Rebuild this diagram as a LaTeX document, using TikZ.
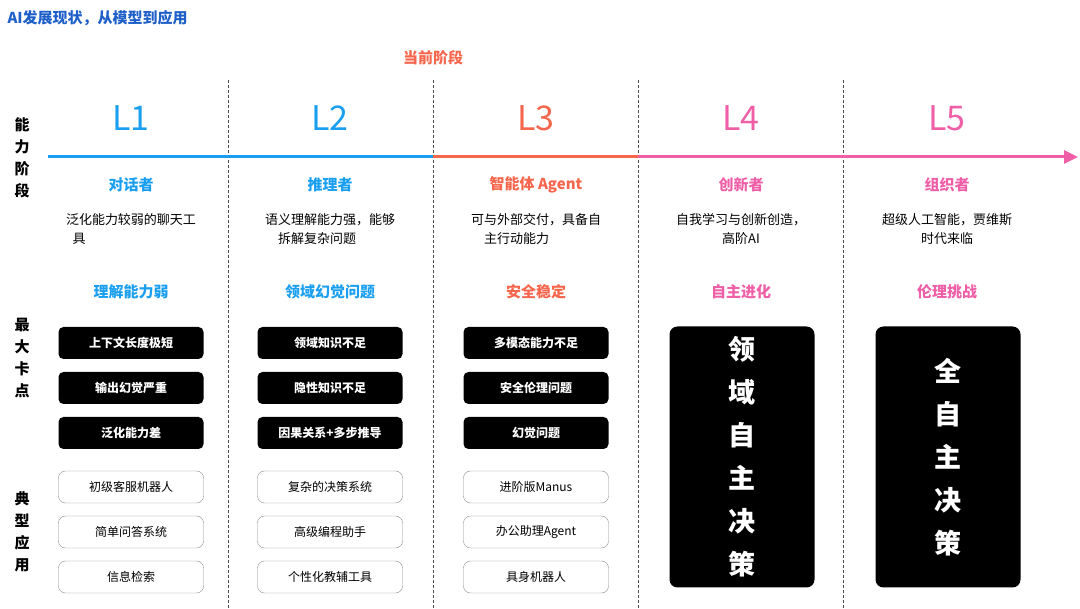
\documentclass[tikz,border=0pt]{standalone}
\usepackage{fontspec}
\setmainfont{Noto Sans CJK SC}
\usetikzlibrary{arrows.meta}
\definecolor{cblue}{HTML}{1A9FF0}
\definecolor{cred}{HTML}{F5664D}
\definecolor{cpink}{HTML}{EE5FA8}
\definecolor{ctitle}{HTML}{1F5FC8}
\tikzset{
    lvl/.style = {font=\fontsize{34}{34}\selectfont},
    stage/.style = {font=\fontsize{15}{15}\selectfont\bfseries},
    desc/.style = {align=center, font=\fontsize{13}{19}\selectfont},
    side/.style = {align=center, font=\fontsize{15}{22}\selectfont\bfseries},
    block/.style = {rectangle, rounded corners=5pt, fill=black, text=white, minimum width=145pt, minimum height=32pt, font=\fontsize{12}{12}\selectfont\bfseries},
    app/.style = {rectangle, rounded corners=7pt, draw=black!45, fill=white, minimum width=145pt, minimum height=32pt, font=\fontsize{12}{12}\selectfont},
    big/.style = {rectangle, rounded corners=8pt, fill=black, text=white, minimum width=145pt, minimum height=261pt, align=center, font=\fontsize{27}{43}\selectfont\bfseries},
    sep/.style = {densely dashed, black!70, thin}
}
\begin{document}
\begin{tikzpicture}[x=1pt, y=-1pt]
\useasboundingbox (0,0) rectangle (1080,609);
\node (title) [anchor=west, text=ctitle, stage] at (4,18) {AI发展现状，从模型到应用};
\node (now) [text=cred, stage] at (433,58) {当前阶段};
% separators
\foreach \x in {228,433,638,843}
    \draw [sep] (\x,80) -- (\x,609);
% side labels
\node (s1) [side] at (22,158) {能\\力\\阶\\段};
\node (s2) [side] at (22,358) {最\\大\\卡\\点};
\node (s3) [side] at (22,532) {典\\型\\应\\用};
% timeline
\coordinate (t0) at (48,157);
\coordinate (t1) at (433,157);
\coordinate (t2) at (638,157);
\coordinate (t3) at (1078,157);
\draw [cblue, line width=3pt] (t0) -- (t1);
\draw [cred, line width=3pt] (t1) -- (t2);
\draw [cpink, line width=3pt, -{Triangle[length=14pt,width=13pt]}] (t2) -- (t3);
% L1
\node (l1) [lvl, text=cblue] at (131,118) {L1};
\node (n1) [stage, text=cblue] at (131,185) {对话者};
\node (d1) [desc] at (131,229) {泛化能力较弱的聊天工\\具\phantom{能力较弱的聊天工}};
\node (k1) [stage, text=cblue] at (131,292) {理解能力弱};
\node (b11) [block] at (131,343) {上下文长度极短};
\node (b12) [block] at (131,388) {输出幻觉严重};
\node (b13) [block] at (131,433) {泛化能力差};
\node (a11) [app] at (131,487) {初级客服机器人};
\node (a12) [app] at (131,532) {简单问答系统};
\node (a13) [app] at (131,577) {信息检索};
% L2
\node (l2) [lvl, text=cblue] at (330,118) {L2};
\node (n2) [stage, text=cblue] at (330,185) {推理者};
\node (d2) [desc] at (330,229) {语义理解能力强，能够\\拆解复杂问题\phantom{能够}};
\node (k2) [stage, text=cblue] at (330,292) {领域幻觉问题};
\node (b21) [block] at (330,343) {领域知识不足};
\node (b22) [block] at (330,388) {隐性知识不足};
\node (b23) [block] at (330,433) {因果关系+多步推导};
\node (a21) [app] at (330,487) {复杂的决策系统};
\node (a22) [app] at (330,532) {高级编程助手};
\node (a23) [app] at (330,577) {个性化教辅工具};
% L3
\node (l3) [lvl, text=cred] at (536,118) {L3};
\node (n3) [stage, text=cred] at (536,185) {智能体 Agent};
\node (d3) [desc] at (536,229) {可与外部交付，具备自\\主行动能力\phantom{具备自}};
\node (k3) [stage, text=cred] at (536,292) {安全稳定};
\node (b31) [block] at (536,343) {多模态能力不足};
\node (b32) [block] at (536,388) {安全伦理问题};
\node (b33) [block] at (536,433) {幻觉问题};
\node (a31) [app] at (536,487) {进阶版Manus};
\node (a32) [app] at (536,532) {办公助理Agent};
\node (a33) [app] at (536,577) {具身机器人};
% L4
\node (l4) [lvl, text=cpink] at (741,118) {L4};
\node (n4) [stage, text=cpink] at (741,185) {创新者};
\node (d4) [desc] at (741,229) {自我学习与创新创造，\\高阶AI};
\node (k4) [stage, text=cpink] at (741,292) {自主进化};
\node (g4) [big] at (742,457) {领\\域\\自\\主\\决\\策};
% L5
\node (l5) [lvl, text=cpink] at (947,118) {L5};
\node (n5) [stage, text=cpink] at (947,185) {组织者};
\node (d5) [desc] at (947,229) {超级人工智能，贾维斯\\时代来临};
\node (k5) [stage, text=cpink] at (947,292) {伦理挑战};
\node (g5) [big] at (948,457) {全\\自\\主\\决\\策};
\end{tikzpicture}
\end{document}
